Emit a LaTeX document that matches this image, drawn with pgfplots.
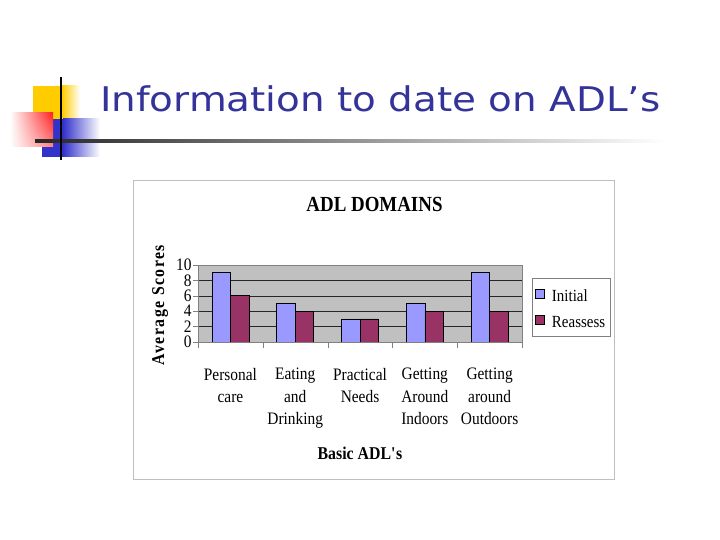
\documentclass[border=0pt]{standalone}
\usepackage{fontspec}
\setmainfont[FakeStretch=0.88]{Liberation Serif}
\newfontfamily\titlefont{DejaVu Sans}
\usepackage{graphicx}
\usepackage{pgfplots}
\pgfplotsset{compat=1.18}
\usetikzlibrary{shadings}
\definecolor{initc}{HTML}{9999FF}
\definecolor{reac}{HTML}{993366}
\definecolor{plotbg}{HTML}{C0C0C0}
\definecolor{titleblue}{HTML}{333399}
\definecolor{decoyellow}{HTML}{FFCC00}
\definecolor{decored}{HTML}{FF2020}
\definecolor{decoblue}{HTML}{3333CC}
\pgfplotsset{sqlegend/.style={legend image code/.code={\draw[##1,line width=0.6pt] (0pt,-4.5pt) rectangle (9pt,4.5pt);}}}

\begin{document}
\begin{tikzpicture}[x=1pt,y=1pt]
% slide background, y measured from the top: 540-y
\fill[white] (0,0) rectangle (720,540);
% decoration
\fill[decoyellow] (33,540-86) rectangle (62,540-125);
\shade[left color=decoyellow,right color=white] (62,540-86) rectangle (80,540-125);
\fill[decoblue] (42,540-119) rectangle (63,540-157);
\shade[left color=decoblue,right color=white] (63,540-119) rectangle (100,540-157);
\shade[upper right=decored,upper left=white,lower right=decored!55!white,lower left=white] (10,540-113) rectangle (53,540-147);
\shade[left color=black!85,right color=white] (35,540-139.8) rectangle (665,540-142.2);
\draw[black,line width=2pt] (61,540-77) -- (61,540-160);
\node[anchor=base west,inner sep=0,text=titleblue] at (100,540-112)
  {\resizebox{560pt}{\height}{\titlefont\fontsize{34}{40}\selectfont Information to date on ADL’s}};
% chart frame
\draw[black!25,line width=1pt] (133.5,540-180.5) rectangle (614.5,540-479.5);

\begin{axis}[
  at={(198pt,198pt)}, anchor=south west,
  scale only axis, width=324pt, height=77pt,
  ybar=0pt, bar width=18.5pt,
  xmin=0.5, xmax=5.5, ymin=0, ymax=10,
  axis background/.style={fill=plotbg},
  axis line style={black!50},
  xtick={1,2,3,4,5},
  xticklabels={{Personal\\care},{Eating\\and\\Drinking},{Practical\\Needs},{Getting\\Around\\Indoors},{Getting\\around\\Outdoors}},
  xticklabel style={align=center,anchor=north,yshift=-17.5pt,font=\fontsize{17.5}{22.5}\selectfont},
  major x tick style={draw=none},
  minor xtick={0.5,1.5,...,5.5},
  minor tick length=6pt,
  major tick length=5pt,
  tick align=outside,
  xtick pos=lower, ytick pos=left,
  tick style={black!50},
  ytick={0,2,4,6,8,10},
  yticklabel style={font=\fontsize{17.5}{18}\selectfont,inner ysep=0pt,xshift=2pt},
  /pgf/number format/assume math mode=true,
  ymajorgrids,
  major grid style={black!85,line width=0.5pt},
  title={ADL DOMAINS},
  title style={at={(rel axis cs:0.5,1)},anchor=center,xshift=14.5pt,yshift=54.5pt,font=\bfseries\fontsize{21.5}{24}\selectfont},
  xlabel={Basic ADL\textquotesingle s},
  xlabel style={at={(rel axis cs:0.5,0)},anchor=center,yshift=-111pt,font=\bfseries\fontsize{18}{20}\selectfont},
  ylabel={\addfontfeatures{LetterSpace=8}Average Scores},
  ylabel style={at={(rel axis cs:-0.117,0.48)},anchor=center,font=\bfseries\fontsize{18}{20}\selectfont},
  legend style={at={(rel axis cs:1.0305,0.831)},anchor=north west,draw=black!50,fill=white,
    font=\fontsize{17}{20}\selectfont,inner xsep=3pt,inner ysep=5pt,row sep=4.6pt,
    /tikz/column sep=5.3pt,
    cells={anchor=west,inner xsep=0pt,inner ysep=0pt,text height=16pt,text depth=0pt}},
]
\addplot[fill=initc,draw=black,line width=0.6pt,sqlegend] coordinates {(1,9) (2,5) (3,3) (4,5) (5,9)};
\addlegendentry{Initial}
\addplot[fill=reac,draw=black,line width=0.6pt,sqlegend] coordinates {(1,6) (2,4) (3,3) (4,4) (5,4)};
\addlegendentry{Reassess}
\end{axis}
\end{tikzpicture}
\end{document}
